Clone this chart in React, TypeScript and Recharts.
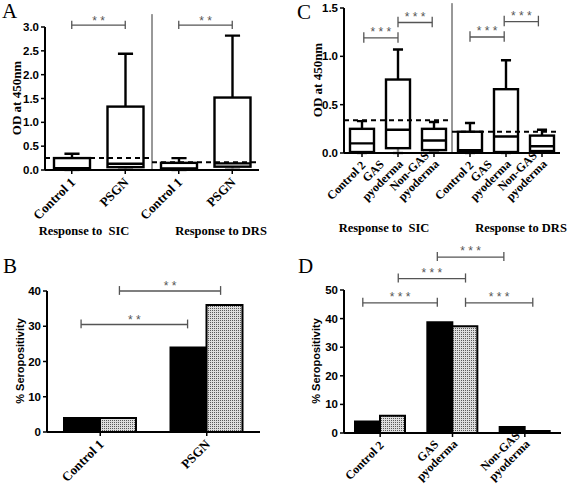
import { ComposedChart, BarChart, Bar, XAxis, YAxis, ReferenceLine } from 'recharts';

const SERIF = "'Liberation Serif', 'Times New Roman', serif";
const SANS = "'Liberation Sans', Arial, sans-serif";

// A: OD at 450nm, Control 1 vs PSGN (SIC | DRS)
const aGroups = ['Control 1', 'PSGN', 'Control 1', 'PSGN'];
const aMin = [0.0, 0.01, 0.0, 0.01];
const aQ1 = [0.03, 0.06, 0.02, 0.07];
const aMed = [0.04, 0.13, 0.03, 0.14];
const aQ3 = [0.25, 1.33, 0.15, 1.52];
const aMax = [0.34, 2.44, 0.25, 2.82];
const aCutoff = [0.25, 0.16];
const aTicks = [0, 0.5, 1, 1.5, 2, 2.5, 3];

// C: OD at 450nm, Control 2 / GAS pyoderma / Non-GAS pyoderma (SIC | DRS)
const cGroups = ['Control 2', 'GAS\npyoderma', 'Non-GAS\npyoderma', 'Control 2', 'GAS\npyoderma', 'Non-GAS\npyoderma'];
const cMin = [0, 0, 0.01, 0, 0, 0.01];
const cQ1 = [0.01, 0.05, 0.03, 0.01, 0.01, 0.02];
const cMed = [0.1, 0.24, 0.13, 0.03, 0.17, 0.07];
const cQ3 = [0.25, 0.76, 0.25, 0.22, 0.66, 0.18];
const cMax = [0.33, 1.07, 0.32, 0.31, 0.96, 0.24];
const cCutoff = [0.34, 0.22];
const cTicks = [0, 0.5, 1, 1.5];

// B: % seropositivity (black = SIC, dotted = DRS)
const bGroups = ['Control 1', 'PSGN'];
const bSic = [4, 24];
const bDrs = [4, 36];
const bTicks = [0, 10, 20, 30, 40];

// D
const dGroups = ['Control 2', 'GAS\npyoderma', 'Non-GAS\npyoderma'];
const dSic = [4, 38.7, 2.1];
const dDrs = [6, 37.3, 0.7];
const dTicks = [0, 10, 20, 30, 40, 50];

// significance brackets: from, to (category units), level, stars
const aSig: [number, number, number, string][] = [[0.5, 1.5, 3.04, '* *'], [2.5, 3.5, 3.04, '* *']];
const cSig: [number, number, number, string][] = [
  [0.55, 1.5, 1.19, '* * *'], [1.5, 2.45, 1.35, '* * *'],
  [3.5, 4.45, 1.2, '* * *'], [4.45, 5.4, 1.36, '* * *'],
];
const bSig: [number, number, number, string][] = [[0.32, 1.32, 30.5, '* *'], [0.68, 1.63, 40, '* *']];
const dSig: [number, number, number, string][] = [
  [0.26, 1.29, 45.5, '* * *'], [0.75, 1.68, 54, '* * *'],
  [1.29, 2.21, 61.5, '* * *'], [1.68, 2.61, 45.5, '* * *'],
];

const axisLine = { stroke: '#000', strokeWidth: 2 };
const yTick = { fill: '#000', fontSize: 11.5, fontWeight: 'bold', fontFamily: SANS };
const centers = (n: number) => Array.from({ length: n }, (_, i) => i + 0.5);

const catTick = (labels: string[], fs: number) => (p: any) => {
  const lines = labels[Math.floor(p.payload.value)].split('\n');
  const n = lines.length;
  const w = Math.max(...lines.map((l) => l.length)) * fs * 0.5;
  return (
    <g transform={`translate(${p.x},${p.y})`}>
      <text transform="rotate(-45)" fontFamily={SERIF} fontWeight="bold" fontSize={fs} fill="#000">
        {lines.map((l, i) => (
          <tspan key={i} x={n === 1 ? -2 : -2 - w / 2} y={8 - (n - 1 - i) * (fs + 1)} textAnchor={n === 1 ? 'end' : 'middle'}>
            {l}
          </tspan>
        ))}
      </text>
    </g>
  );
};

// box drawn from the bar's own scaled [min, max] extent
const BoxShape = (props: any) => {
  const { x, y, width, height, payload } = props;
  const { min, q1, med, q3, max } = payload;
  const top = Math.min(y, y + height);
  const k = Math.abs(height) / (max - min);
  const py = (v: number) => top + (max - v) * k;
  const cx = x + width / 2;
  const cap = width * 0.42;
  return (
    <g stroke="#000" strokeWidth={2.4}>
      <line x1={cx} x2={cx} y1={py(max)} y2={py(q3)} />
      <line x1={cx} x2={cx} y1={py(q1)} y2={py(min)} stroke="#888" />
      <line x1={cx - cap / 2} x2={cx + cap / 2} y1={py(max)} y2={py(max)} />
      <line x1={cx - cap / 2} x2={cx + cap / 2} y1={py(min)} y2={py(min)} stroke="#888" />
      <rect x={x} y={py(q3)} width={width} height={py(q1) - py(q3)} fill="#fff" />
      <line x1={x} x2={x + width} y1={py(med)} y2={py(med)} />
    </g>
  );
};

const brackets = (sig: [number, number, number, string][], up: number, down: number, dy: number) =>
  sig.flatMap(([from, to, lv, stars], i) => [
    <ReferenceLine
      key={`h${i}`}
      segment={[{ x: from, y: lv }, { x: to, y: lv }]}
      stroke="#555"
      strokeWidth={1.3}
      ifOverflow="visible"
      label={{ value: stars, position: 'center', dy, fill: '#555', fontSize: 12, fontFamily: SANS }}
    />,
    <ReferenceLine key={`l${i}`} segment={[{ x: from, y: lv + up }, { x: from, y: lv - down }]} stroke="#555" strokeWidth={1.3} ifOverflow="visible" />,
    <ReferenceLine key={`r${i}`} segment={[{ x: to, y: lv + up }, { x: to, y: lv - down }]} stroke="#555" strokeWidth={1.3} ifOverflow="visible" />,
  ]);

type BoxProps = {
  groups: string[]; mins: number[]; q1s: number[]; meds: number[]; q3s: number[]; maxs: number[];
  cutoffs: number[]; ticks: number[]; sig: [number, number, number, string][];
  left: number; top: number; w: number; h: number; plot: number[]; barSize: number;
  fs: number; up: number; down: number; starDy: number; dividerTop: number;
};

const BoxPanel = (p: BoxProps) => {
  const n = p.groups.length;
  const pos = centers(n);
  const data = p.groups.map((g, i) => ({ pos: pos[i], name: g, min: p.mins[i], q1: p.q1s[i], med: p.meds[i], q3: p.q3s[i], max: p.maxs[i] }));
  const half = n / 2;
  const [x0, y0, x1, y1] = p.plot;
  const yMax = p.ticks[p.ticks.length - 1];
  return (
    <div style={{ position: 'absolute', left: p.left, top: p.top }}>
      <ComposedChart width={p.w} height={p.h} data={data} margin={{ top: y0, right: p.w - x1, left: 0, bottom: 0 }}>
        <XAxis dataKey="pos" type="number" domain={[0, n]} ticks={pos} allowDataOverflow axisLine={axisLine} tickLine={{ stroke: '#000', strokeWidth: 1.5 }} tickSize={4} interval={0} height={p.h - y1} tick={catTick(p.groups, p.fs)} />
        <YAxis domain={[0, yMax]} ticks={p.ticks} width={x0} axisLine={axisLine} tickLine={{ stroke: '#000', strokeWidth: 1.5 }} tickSize={4} tick={yTick} tickFormatter={(v: number) => v.toFixed(1)} />
        <ReferenceLine segment={[{ x: half, y: 0 }, { x: half, y: p.dividerTop }]} stroke="#333" strokeWidth={1} ifOverflow="visible" />
        <ReferenceLine segment={[{ x: 0, y: p.cutoffs[0] }, { x: half, y: p.cutoffs[0] }]} stroke="#000" strokeWidth={2} strokeDasharray="5 4" ifOverflow="visible" />
        <ReferenceLine segment={[{ x: half, y: p.cutoffs[1] }, { x: n, y: p.cutoffs[1] }]} stroke="#000" strokeWidth={2} strokeDasharray="5 4" ifOverflow="visible" />
        <Bar dataKey={(d: any) => [d.min, d.max]} barSize={p.barSize} shape={BoxShape} isAnimationActive={false} />
        {brackets(p.sig, p.up, p.down, p.starDy)}
      </ComposedChart>
    </div>
  );
};

type BarProps = {
  groups: string[]; sic: number[]; drs: number[]; ticks: number[]; sig: [number, number, number, string][];
  left: number; top: number; w: number; h: number; plot: number[]; barSize: number;
  fs: number; up: number; down: number; starDy: number; pid: string;
};

const BarPanel = (p: BarProps) => {
  const n = p.groups.length;
  const pos = centers(n);
  const data = p.groups.map((g, i) => ({ pos: pos[i], name: g, sic: p.sic[i], drs: p.drs[i] }));
  const [x0, y0, x1, y1] = p.plot;
  const yMax = p.ticks[p.ticks.length - 1];
  return (
    <div style={{ position: 'absolute', left: p.left, top: p.top }}>
      <BarChart width={p.w} height={p.h} data={data} barGap={0} margin={{ top: y0, right: p.w - x1, left: 0, bottom: 0 }}>
        <defs>
          <pattern id={p.pid} width="2" height="2" patternUnits="userSpaceOnUse">
            <rect width="2" height="2" fill="#dedede" />
            <rect width="1" height="1" fill="#5a5a5a" />
          </pattern>
        </defs>
        <XAxis dataKey="pos" type="number" domain={[0, n]} ticks={pos} allowDataOverflow axisLine={axisLine} tickLine={{ stroke: '#000', strokeWidth: 1.5 }} tickSize={4} interval={0} height={p.h - y1} tick={catTick(p.groups, p.fs)} />
        <YAxis domain={[0, yMax]} ticks={p.ticks} width={x0} axisLine={axisLine} tickLine={{ stroke: '#000', strokeWidth: 1.5 }} tickSize={4} tick={yTick} />
        <Bar dataKey="sic" barSize={p.barSize} fill="#000" stroke="#000" strokeWidth={2} isAnimationActive={false} />
        <Bar dataKey="drs" barSize={p.barSize} fill={`url(#${p.pid})`} stroke="#000" strokeWidth={2} isAnimationActive={false} />
        {brackets(p.sig, p.up, p.down, p.starDy)}
      </BarChart>
    </div>
  );
};

const txt = { fontFamily: SERIF, fontWeight: 'bold' as const, fill: '#000', whiteSpace: 'pre' as const };

export default function App() {
  return (
    <div style={{ position: 'absolute', left: 0, top: 0, width: 567, height: 493, background: '#fff', overflow: 'hidden' }}>
      <BoxPanel
        groups={aGroups} mins={aMin} q1s={aQ1} meds={aMed} q3s={aQ3} maxs={aMax}
        cutoffs={aCutoff} ticks={aTicks} sig={aSig}
        left={0} top={0} w={283} h={250} plot={[45, 27, 259, 170]} barSize={36}
        fs={13} up={0.09} down={0.08} starDy={-4} dividerTop={3.27}
      />
      <BoxPanel
        groups={cGroups} mins={cMin} q1s={cQ1} meds={cMed} q3s={cQ3} maxs={cMax}
        cutoffs={cCutoff} ticks={cTicks} sig={cSig}
        left={283} top={0} w={284} h={250} plot={[61, 8, 277, 153]} barSize={24}
        fs={12} up={0.06} down={0.05} starDy={-6} dividerTop={1.55}
      />
      <BarPanel
        groups={bGroups} sic={bSic} drs={bDrs} ticks={bTicks} sig={bSig}
        left={0} top={240} w={283} h={253} plot={[47, 51, 260, 192]} barSize={36}
        fs={13} up={1.4} down={1.1} starDy={-5} pid="dotsB"
      />
      <BarPanel
        groups={dGroups} sic={dSic} drs={dDrs} ticks={dTicks} sig={dSig}
        left={283} top={240} w={284} h={253} plot={[61, 50, 278, 193]} barSize={25}
        fs={12} up={1.8} down={1.4} starDy={-6} pid="dotsD"
      />
      <svg width={567} height={493} style={{ position: 'absolute', left: 0, top: 0, pointerEvents: 'none' }}>
        <text x={2} y={18} fontFamily={SERIF} fontSize={21}>A</text>
        <text x={3} y={273} fontFamily={SERIF} fontSize={21}>B</text>
        <text x={297} y={19} fontFamily={SERIF} fontSize={21}>C</text>
        <text x={298} y={273} fontFamily={SERIF} fontSize={21}>D</text>

        <text transform="translate(21,98) rotate(-90)" textAnchor="middle" fontSize={13} style={txt}>OD at 450nm</text>
        <text transform="translate(322,80) rotate(-90)" textAnchor="middle" fontSize={13} style={txt}>OD at 450nm</text>
        <text transform="translate(24,361) rotate(-90)" textAnchor="middle" fontSize={11} fontFamily={SANS} fontWeight="bold">% Seropositivity</text>
        <text transform="translate(320,361) rotate(-90)" textAnchor="middle" fontSize={11} fontFamily={SANS} fontWeight="bold">% Seropositivity</text>

        <text x={84} y={235} textAnchor="middle" fontSize={12.5} style={txt}>Response to  SIC</text>
        <text x={221} y={235} textAnchor="middle" fontSize={12.5} style={txt}>Response to DRS</text>
        <text x={384} y={232} textAnchor="middle" fontSize={12.5} style={txt}>Response to  SIC</text>
        <text x={521} y={232} textAnchor="middle" fontSize={12.5} style={txt}>Response to DRS</text>
      </svg>
    </div>
  );
}
